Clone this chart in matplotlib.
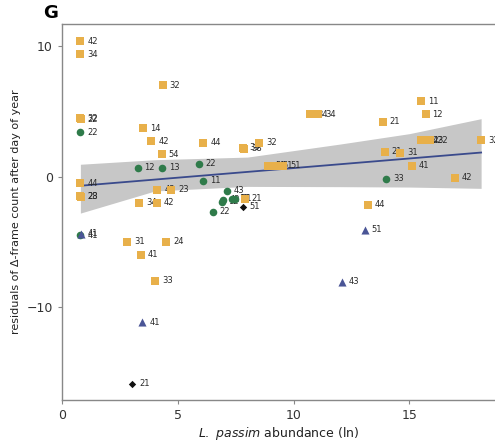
import matplotlib
matplotlib.use("Agg")
import matplotlib.pyplot as plt
import numpy as np

# colony points: abundance (ln), residual, label
yel_x = [0.78, 0.78, 0.78, 0.80, 0.78, 0.78, 0.80, 3.5, 3.85, 4.33, 4.3, 4.1, 4.7, 3.33, 4.07,
         6.1, 7.8, 7.85, 8.5, 8.9, 9.2, 9.55, 10.7, 11.05, 13.85, 15.5, 15.7, 15.5, 15.7, 15.9,
         18.1, 13.94, 14.6, 15.1, 16.97, 13.2, 7.88, 2.8, 4.5, 3.4, 4.0]
yel_y = [10.4, 9.4, 4.5, 4.4, -0.5, -1.5, -1.55, 3.7, 2.7, 7.0, 1.7, -1.0, -1.0, -2.0, -2.0,
         2.6, 2.2, 2.15, 2.6, 0.85, 0.85, 0.85, 4.8, 4.8, 4.2, 5.8, 4.8, 2.8, 2.8, 2.8,
         2.8, 1.9, 1.85, 0.85, -0.1, -2.15, -1.7, -5.0, -5.0, -6.0, -8.0]
yel_lab = ['42', '34', '32', '22', '44', '28', '23', '14', '42', '32', '54', '43', '23', '34', '42',
           '44', '39', '38', '32', '51', '51', '51', '34', '34', '21', '11', '12', '32', '42', '32',
           '32', '21', '31', '41', '42', '44', '21', '31', '24', '41', '33']

grn_x = [0.78, 0.78, 3.25, 4.3, 5.9, 6.1, 7.1, 6.93, 7.32, 7.45, 6.88, 6.5, 14.0]
grn_y = [3.4, -4.5, 0.7, 0.7, 1.0, -0.3, -1.08, -1.77, -1.7, -1.7, -1.92, -2.7, -0.15]
grn_lab = ['22', '41', '12', '13', '22', '11', '43', '42', '12', '21', '12', '22', '33']

nav_x = [3.46, 13.07, 12.08, 0.80]
nav_y = [-11.2, -4.08, -8.08, -4.4]
nav_lab = ['41', '51', '43', '41']

blk_x = [3.03, 7.8]
blk_y = [-15.9, -2.3]
blk_lab = ['21', '51']

# fitted line and confidence band, read at a few positions
fit_x = [0.78, 18.1]
fit_y = [-0.7, 1.85]
band_x = [0.78, 4.0, 8.0, 12.0, 15.0, 18.1]
band_lo = [-2.8, -1.1, -0.75, -0.77, -0.8, -0.9]
band_hi = [0.95, 1.3, 1.5, 2.5, 3.3, 4.45]

fig = plt.figure(figsize=(4.95, 4.41), dpi=100)
ax = fig.add_axes([0.125, 0.093, 0.875, 0.852])

ax.fill_between(band_x, band_lo, band_hi, color='#bdbdbd', alpha=0.85, lw=0, zorder=1)
ax.plot(fit_x, fit_y, color='#3a4a8c', lw=1.3, zorder=2)

groups = [
    (yel_x, yel_y, yel_lab, 's', '#e8b04a', 36),
    (grn_x, grn_y, grn_lab, 'o', '#2f7b4a', 30),
    (nav_x, nav_y, nav_lab, '^', '#4a5596', 34),
    (blk_x, blk_y, blk_lab, 'D', '#111111', 14),
]
for xs, ys, labs, mk, col, sz in groups:
    for x, y, t in zip(xs, ys, labs):
        ax.annotate(t, (x, y), xytext=(5, 0), textcoords='offset points',
                    fontsize=6, color='#2a2a2a', ha='left', va='center', zorder=3)
    ax.scatter(xs, ys, marker=mk, s=sz, color=col, lw=0, zorder=4)

ax.set_xlim(-0.02, 18.7)
ax.set_ylim(-17.15, 11.7)
ax.set_xticks([0, 5, 10, 15])
ax.set_yticks([-10, 0, 10])
ax.set_yticklabels(['\u221210', '0', '10'])
ax.tick_params(colors='#888888', labelcolor='#333333', labelsize=9, length=3)

for s in ['left', 'bottom', 'top']:
    ax.spines[s].set_color('#888888')
    ax.spines[s].set_linewidth(1.0)
ax.spines['right'].set_visible(False)

ax.set_xlabel(r'$\it{L.\ passim}$ abundance (ln)', fontsize=9, color='#222222', labelpad=2)
ax.set_ylabel('residuals of \u0394-frame count after day of year', fontsize=8, color='#222222')

fig.text(0.088, 0.99, 'G', fontsize=13, fontweight='bold', va='top', ha='left')

fig.savefig('out.png', dpi=100)
